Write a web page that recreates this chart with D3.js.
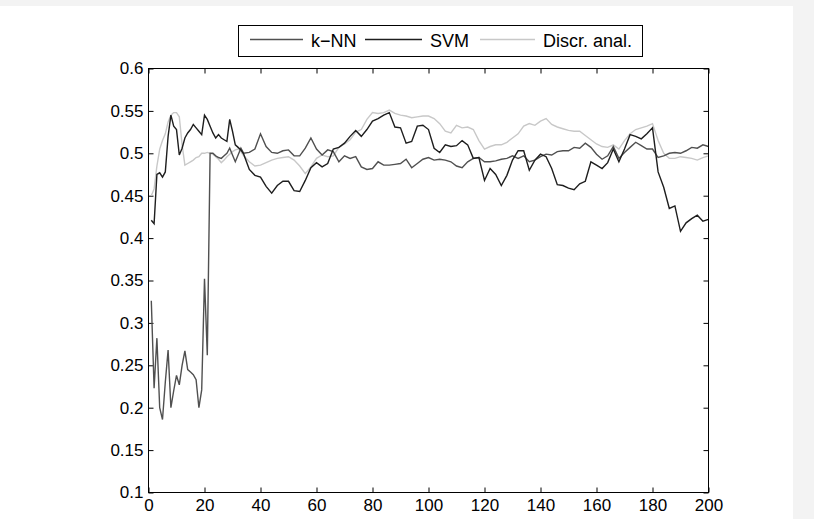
<html>
<head>
<style>
  body { margin: 0; background: #fff; }
  svg text { font-family: 'Liberation Sans', Arial, Helvetica, sans-serif; fill: #000; }
</style>
</head>
<body>
<script src="https://cdnjs.cloudflare.com/ajax/libs/d3/7.8.5/d3.min.js"></script>
<script>

// x positions of the samples (1..34 every step, then every second step)
var epochs = [1,2,3,4,5,6,7,8,9,10,11,12,13,14,15,16,17,18,19,20,21,22,23,24,25,26,27,28,29,30,31,32,33,34,
  36,38,40,42,44,46,48,50,52,54,56,58,60,62,64,66,68,70,72,74,76,78,80,82,84,86,88,90,92,94,96,98,100,
  102,104,106,108,110,112,114,116,118,120,122,124,126,128,130,132,134,136,138,140,142,144,146,148,150,
  152,154,156,158,160,162,164,166,168,170,172,174,176,178,180,182,184,186,188,190,192,194,196,198,200];

var knn = [0.326,0.223,0.282,0.2,0.186,0.23,0.268,0.2,0.22,0.238,0.227,0.25,0.267,0.245,0.242,0.239,0.233,0.2,0.221,0.352,
  0.262,0.5,0.5,0.497,0.495,0.494,0.497,0.5,0.506,0.498,0.49,0.498,0.506,0.5,
  0.501,0.505,0.523,0.508,0.501,0.5,0.503,0.504,0.497,0.497,0.506,0.518,0.505,0.498,0.504,0.502,0.49,0.497,0.494,0.496,
  0.484,0.481,0.482,0.49,0.486,0.486,0.487,0.488,0.493,0.483,0.488,0.493,0.495,0.492,0.493,0.492,0.49,0.485,0.483,0.49,
  0.494,0.495,0.49,0.49,0.491,0.493,0.494,0.497,0.494,0.497,0.49,0.492,0.496,0.499,0.498,0.502,0.503,0.503,0.507,0.506,
  0.512,0.507,0.499,0.493,0.497,0.508,0.494,0.501,0.507,0.513,0.509,0.505,0.505,0.495,0.497,0.5,0.501,0.5,0.503,0.507,
  0.506,0.51,0.508];

var svm = [0.421,0.417,0.475,0.477,0.472,0.478,0.52,0.545,0.532,0.528,0.498,0.506,0.518,0.524,0.528,0.534,0.53,0.526,0.522,0.545,
  0.54,0.532,0.524,0.518,0.522,0.518,0.516,0.514,0.54,0.526,0.51,0.507,0.504,0.499,
  0.481,0.474,0.472,0.461,0.453,0.462,0.467,0.467,0.456,0.455,0.468,0.483,0.489,0.484,0.488,0.505,0.507,0.512,0.52,0.527,
  0.52,0.528,0.538,0.541,0.545,0.548,0.531,0.53,0.512,0.514,0.532,0.533,0.528,0.506,0.501,0.51,0.508,0.509,0.515,0.51,
  0.494,0.495,0.468,0.482,0.475,0.462,0.474,0.492,0.503,0.503,0.48,0.492,0.499,0.496,0.482,0.463,0.462,0.459,0.457,0.464,
  0.467,0.49,0.486,0.482,0.489,0.505,0.49,0.505,0.522,0.52,0.517,0.523,0.53,0.478,0.46,0.435,0.438,0.408,0.418,0.423,
  0.427,0.42,0.422];

var discr = [0.45,0.458,0.485,0.505,0.515,0.523,0.537,0.545,0.548,0.548,0.543,0.51,0.486,0.488,0.49,0.492,0.495,0.496,0.5,0.5,
  0.501,0.5,0.499,0.496,0.493,0.489,0.492,0.496,0.499,0.502,0.504,0.505,0.502,0.497,
  0.49,0.485,0.486,0.489,0.492,0.494,0.495,0.496,0.492,0.485,0.476,0.484,0.494,0.498,0.496,0.497,0.507,0.511,0.516,0.525,
  0.528,0.54,0.548,0.547,0.548,0.551,0.547,0.545,0.544,0.542,0.543,0.544,0.544,0.541,0.535,0.526,0.524,0.533,0.53,0.531,
  0.528,0.515,0.505,0.508,0.51,0.51,0.513,0.518,0.523,0.532,0.535,0.533,0.538,0.541,0.534,0.531,0.529,0.527,0.526,0.526,
  0.521,0.516,0.511,0.508,0.507,0.51,0.505,0.515,0.523,0.528,0.53,0.532,0.535,0.515,0.5,0.494,0.494,0.496,0.495,0.494,
  0.492,0.495,0.497];

var seriesNames = ['k\u2212NN', 'SVM', 'Discr. anal.'];
var seriesColors = ['#505050', '#1e1e1e', '#c8c8c8'];
var xTicks = [0,20,40,60,80,100,120,140,160,180,200];
var yTicks = [0.1,0.15,0.2,0.25,0.3,0.35,0.4,0.45,0.5,0.55,0.6];

var width = 814;
var height = 519;
var plotLeft = 148.5, plotRight = 708.5, plotTop = 68.5, plotBottom = 492.5;

var svg = d3.select('body').append('svg')
  .attr('width', width)
  .attr('height', height);

// faint grey frame at the top and right edge of the figure
svg.append('rect').attr('width', width).attr('height', height).attr('fill', '#f3f3f3');
svg.append('rect').attr('x', 0).attr('y', 6).attr('width', 793).attr('height', height - 6).attr('fill', '#fff');

var x = d3.scaleLinear().domain([0, 200]).range([plotLeft, plotRight]);
var y = d3.scaleLinear().domain([0.1, 0.6]).range([plotBottom, plotTop]);

function fmt (v) { return d3.format('.2~f')(v); }

function styleAxis (g) {
  g.select('.domain').remove();
  g.selectAll('line').attr('stroke', '#000');
  g.selectAll('text').style('font-size', '17px').attr('fill', '#000');
}

// axes, ticks pointing inward
svg.append('g').attr('transform', 'translate(0,' + plotBottom + ')')
  .call(d3.axisBottom(x).tickValues(xTicks).tickSizeInner(-5).tickSizeOuter(0).tickPadding(6))
  .call(styleAxis);
svg.append('g').attr('transform', 'translate(0,' + plotTop + ')')
  .call(d3.axisTop(x).tickValues(xTicks).tickSizeInner(-5).tickSizeOuter(0).tickFormat(''))
  .call(styleAxis);
svg.append('g').attr('transform', 'translate(' + plotLeft + ',0)')
  .call(d3.axisLeft(y).tickValues(yTicks).tickSizeInner(-5).tickSizeOuter(0).tickPadding(5).tickFormat(fmt))
  .call(styleAxis);
svg.append('g').attr('transform', 'translate(' + plotRight + ',0)')
  .call(d3.axisRight(y).tickValues(yTicks).tickSizeInner(-5).tickSizeOuter(0).tickFormat(''))
  .call(styleAxis);

var all = [knn, svm, discr];
var line = d3.line()
  .x(function (d, i) { return x(epochs[i]); })
  .y(function (d) { return y(d); });

// draw light series first so dark ones stay on top
[2, 0, 1].forEach(function (k) {
  svg.append('path')
    .datum(all[k])
    .attr('d', line)
    .attr('fill', 'none')
    .attr('stroke', seriesColors[k])
    .attr('stroke-width', 1.4);
});

svg.append('rect')
  .attr('x', plotLeft).attr('y', plotTop)
  .attr('width', plotRight - plotLeft).attr('height', plotBottom - plotTop)
  .attr('fill', 'none').attr('stroke', '#000').attr('stroke-width', 1);

// legend
var legend = svg.append('g');
legend.append('rect')
  .attr('x', 238.5).attr('y', 25.5).attr('width', 404).attr('height', 31)
  .attr('fill', '#fff').attr('stroke', '#000');
var entryX = [250, 365, 480];
var lineLen = [53, 57, 55];
seriesNames.forEach(function (name, i) {
  legend.append('line')
    .attr('x1', entryX[i]).attr('x2', entryX[i] + lineLen[i])
    .attr('y1', 39.5).attr('y2', 39.5)
    .attr('stroke', seriesColors[i]).attr('stroke-width', 1.3);
  legend.append('text')
    .attr('x', entryX[i] + lineLen[i] + 8).attr('y', 47)
    .style('font-size', '18px')
    .text(name);
});

</script>
</body>
</html>
